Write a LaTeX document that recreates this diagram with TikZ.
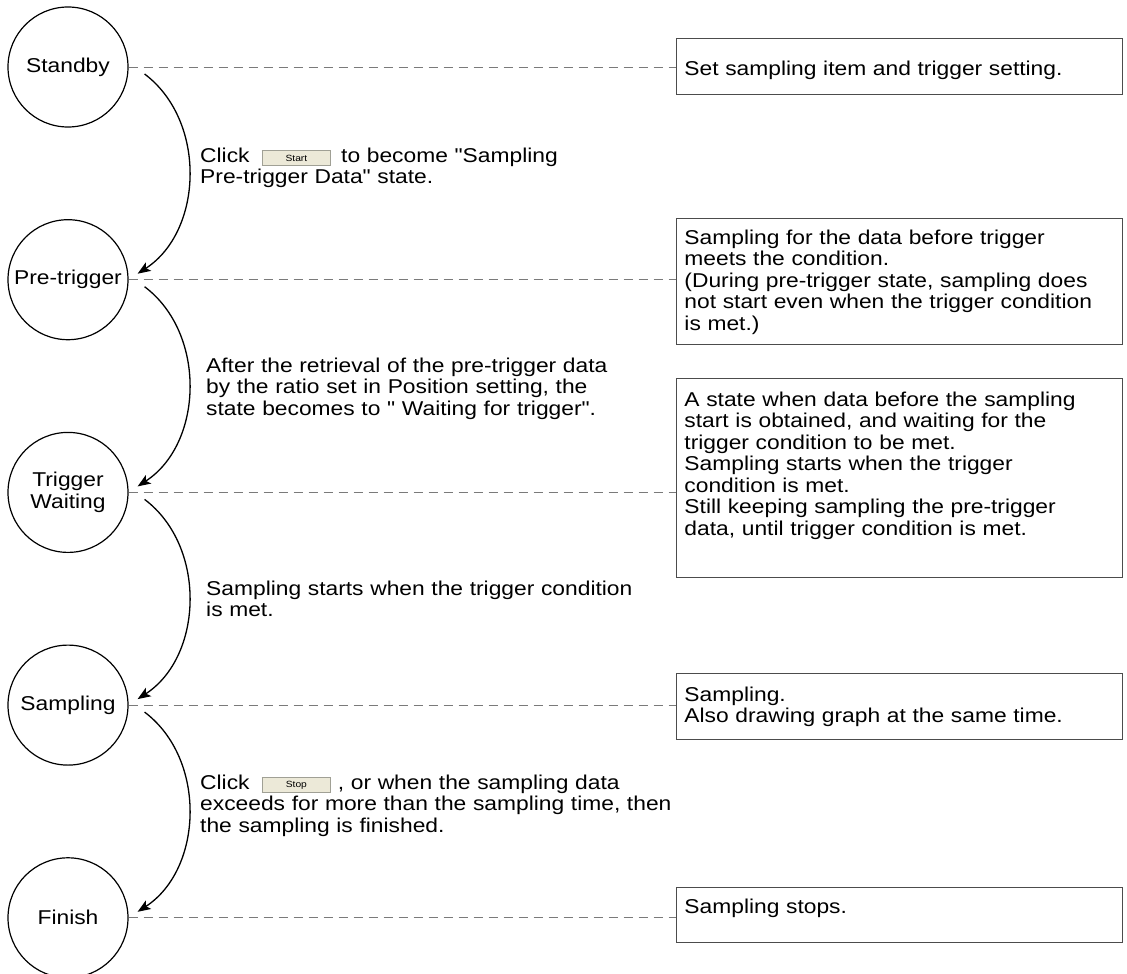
\documentclass[tikz,border=0pt]{standalone}
\usepackage{fontspec}
\setmainfont{Liberation Sans}[FakeStretch=1.14, Ligatures=TeXOff]
\usetikzlibrary{arrows.meta, positioning}

\definecolor{dashgray}{HTML}{7A7A7A}
\definecolor{btnface}{HTML}{ECE9D8}
\definecolor{btnedge}{HTML}{A0A095}

% small push button drawn inside the text
\newcommand{\btn}[1]{\raisebox{-3pt}{\setlength{\fboxsep}{0pt}\setlength{\fboxrule}{0.8pt}%
  \fcolorbox{btnedge}{btnface}{\parbox[b][14.5pt][c]{68pt}{\centering\fontsize{9}{9}\selectfont #1}}}}

\begin{document}
\begin{tikzpicture}[
    x=1pt, y=-1pt,
    every node/.style={font=\fontsize{20pt}{21.5pt}\selectfont},
    state/.style={draw, circle, minimum size=120pt, inner sep=0pt, line width=1.2pt, align=center},
    note/.style={draw=black!70, line width=0.9pt, anchor=north west, inner xsep=8pt, inner ysep=0pt,
                 text width=430pt, align=left},
    lbl/.style={anchor=north west, inner sep=0pt, text width=480pt, align=left, text height=15pt},
    leader/.style={draw=dashgray, line width=0.9pt, dash pattern=on 9pt off 6pt},
    flow/.style={-{Stealth[length=13pt, width=10pt, inset=3pt]}, line width=1.3pt}
]
\useasboundingbox (0,0) rectangle (1127,974);

% states
\node[state] (standby) at (68,67) {Standby};
\node[state, below=91.5pt of standby] (pretrig) {Pre-trigger};
\node[state, below=91.5pt of pretrig] (waiting) {Trigger\\Waiting};
\node[state, below=91.5pt of waiting] (sampling) {Sampling};
\node[state, below=91.5pt of sampling] (finish) {Finish};

% notes on the right
\node[note, text height=37pt, text depth=19pt] (note1) at (676,38) {Set sampling item and trigger setting.};
\node[note, text height=26pt, text depth=100pt] (note2) at (676,218)
  {Sampling for the data before trigger\\meets the condition.\\(During pre-trigger state, sampling does\\not start even when the trigger condition\\is met.)};
\node[note, text height=28pt, text depth=171pt] (note3) at (676,378)
  {A state when data before the sampling\\start is obtained, and waiting for the\\trigger condition to be met.\\Sampling starts when the trigger\\condition is met.\\Still keeping sampling the pre-trigger\\data, until trigger condition is met.};
\node[note, text height=28pt, text depth=38pt] (note4) at (676,673)
  {Sampling.\\Also drawing graph at the same time.};
\node[note, text height=26pt, text depth=29pt] (note5) at (676,887) {Sampling stops.};

% dashed leaders
\draw[leader] (standby.east) -- (standby.east -| note1.west);
\draw[leader] (pretrig.east) -- (pretrig.east -| note2.west);
\draw[leader] (waiting.east) -- (waiting.east -| note3.west);
\draw[leader] (sampling.east) -- (sampling.east -| note4.west);
\draw[leader] (finish.east) -- (finish.east -| note5.west);

% transitions
\draw[flow] ([shift={(16,7)}]standby.east) to[bend left=55] ([shift={(9,-6)}]pretrig.east);
\draw[flow] ([shift={(16,7)}]pretrig.east) to[bend left=55] ([shift={(9,-6)}]waiting.east);
\draw[flow] ([shift={(16,7)}]waiting.east) to[bend left=55] ([shift={(9,-6)}]sampling.east);
\draw[flow] ([shift={(16,7)}]sampling.east) to[bend left=55] ([shift={(9,-6)}]finish.east);

% transition texts
\node[lbl] (click1) at (200,147) {Click\hspace{12pt}\btn{Start}\hspace{10pt}to become "Sampling\\Pre-trigger Data" state.};
\node[lbl] (retrieve) at (206,357) {After the retrieval of the pre-trigger data\\by the ratio set in Position setting, the\\state becomes to " Waiting for trigger".};
\node[lbl] (starts) at (206,580) {Sampling starts when the trigger condition\\is met.};
\node[lbl] (click2) at (200,774) {Click\hspace{12pt}\btn{Stop} , or when the sampling data\\exceeds for more than the sampling time, then\\the sampling is finished.};
\end{tikzpicture}
\end{document}
